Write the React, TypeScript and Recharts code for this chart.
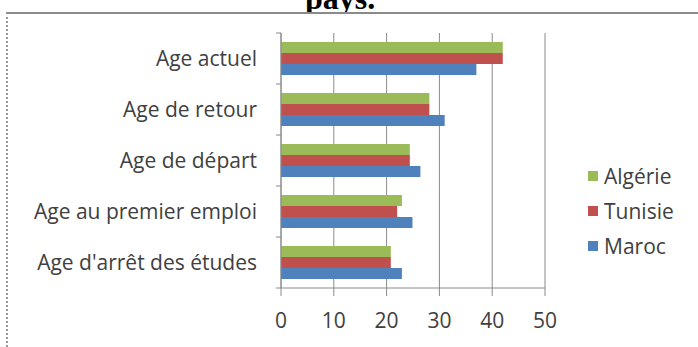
import { Bar, BarChart, CartesianGrid, XAxis, YAxis } from "recharts";

const categories = [
  "Age actuel",
  "Age de retour",
  "Age de départ",
  "Age au premier emploi",
  "Age d'arrêt des études",
];
const algerie = [42, 28.1, 24.4, 22.9, 20.8];
const tunisie = [42, 28.1, 24.4, 22, 20.8];
const maroc = [37, 31, 26.4, 24.9, 22.9];
const xTicks = [0, 10, 20, 30, 40, 50];

const series = [
  { key: "algerie", name: "Algérie", color: "#9BBB59" },
  { key: "tunisie", name: "Tunisie", color: "#C0504D" },
  { key: "maroc", name: "Maroc", color: "#4F81BD" },
];

const data = categories.map((cat, i) => ({
  cat,
  algerie: algerie[i],
  tunisie: tunisie[i],
  maroc: maroc[i],
}));

const FONT = "'Open Sans', sans-serif";
const TEXT = "#404040";
const LINE = "#8a8a8a";

function CatTick(props: any) {
  const { x, y, payload, index } = props;
  const half = payload?.offset || 25.5;
  const ax = x + 24;
  return (
    <g>
      <line x1={ax - 5} x2={ax} y1={y - half} y2={y - half} stroke={LINE} />
      {index === categories.length - 1 && (
        <line x1={ax - 5} x2={ax} y1={y + half} y2={y + half} stroke={LINE} />
      )}
      <text x={x} y={y} dy="0.35em" textAnchor="end" fill={TEXT} fontSize={21} fontFamily={FONT}>
        {payload.value}
      </text>
    </g>
  );
}

// Excel-style legend, kept outside the plot so it doesn't eat chart space
function LegendBox() {
  return (
    <div style={{ position: "absolute", left: 588, top: 158, fontFamily: FONT, fontSize: 21, color: TEXT }}>
      {series.map((s) => (
        <div key={s.key} style={{ display: "flex", alignItems: "center", height: 35 }}>
          <span style={{ width: 10, height: 10, background: s.color, marginRight: 6 }} />
          {s.name}
        </div>
      ))}
    </div>
  );
}

export default function App() {
  return (
    <div style={{ position: "absolute", left: 0, top: 0, width: 698, height: 347, background: "#fff", overflow: "hidden" }}>
      {/* tail of the document caption above the chart, cut by the page crop */}
      <svg width={698} height={12} style={{ position: "absolute", left: 0, top: 0 }}>
        <text x={340} y={9} textAnchor="middle" fontFamily="'Liberation Serif', serif" fontWeight="bold" fontSize={32} fill="#000">
          pays.
        </text>
      </svg>
      <div
        style={{
          position: "absolute",
          left: 6,
          top: 12,
          width: 692,
          height: 335,
          borderLeft: "2px dotted #9a9a9a",
          borderTop: "2px solid #8a8a8a",
          boxSizing: "border-box",
        }}
      />
      <div style={{ position: "absolute", left: 0, top: 0 }}>
        <BarChart
          width={698}
          height={347}
          data={data}
          layout="vertical"
          margin={{ top: 33, right: 153, left: 0, bottom: 19 }}
          barGap={0}
        >
          <CartesianGrid horizontal={false} stroke={LINE} />
          <XAxis
            type="number"
            domain={[0, 50]}
            ticks={xTicks}
            height={40}
            tickSize={8}
            tickMargin={17}
            stroke={LINE}
            tick={{ fill: TEXT, fontSize: 21, fontFamily: FONT }}
          />
          <YAxis
            type="category"
            dataKey="cat"
            width={281}
            tickSize={0}
            tickMargin={24}
            stroke={LINE}
            tick={<CatTick />}
            interval={0}
          />
          {series.map((s) => (
            <Bar key={s.key} dataKey={s.key} name={s.name} fill={s.color} barSize={11} isAnimationActive={false} />
          ))}
        </BarChart>
      </div>
      <LegendBox />
    </div>
  );
}
